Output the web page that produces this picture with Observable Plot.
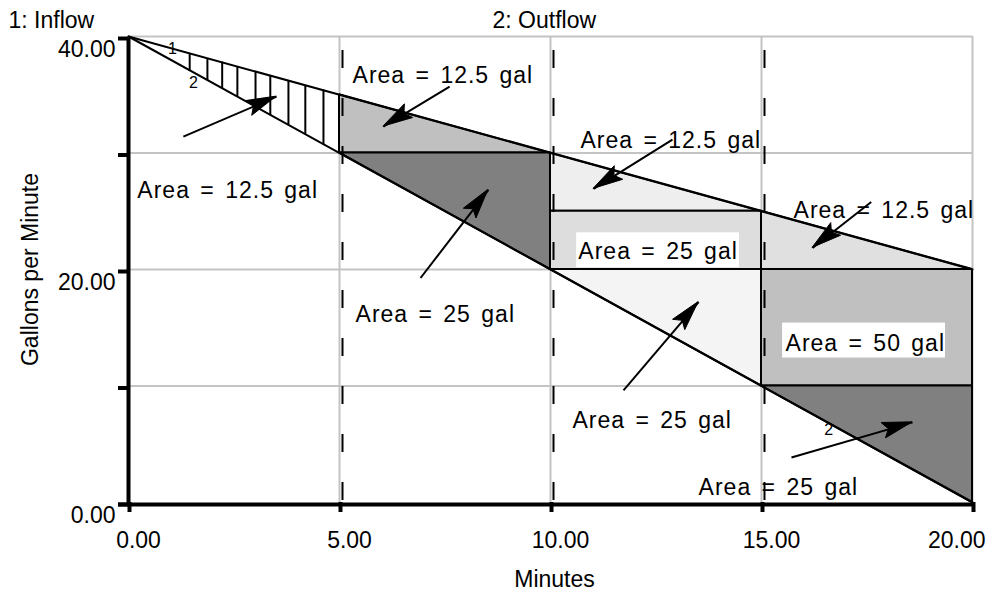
<!DOCTYPE html>
<html><head><meta charset="utf-8">
<script src="https://cdn.jsdelivr.net/npm/d3@7"></script>
<script src="https://cdn.jsdelivr.net/npm/@observablehq/plot@0.6"></script>
<style>
html,body{margin:0;padding:0;background:#fff;}
#chart svg{display:block;}
</style></head><body><div id="chart"></div>
<script>
// ---- data ----
const minutes = [0, 20];
const inflowGpm = [40, 20];
const outflowGpm = [40, 0];

const gridMinutes = [5, 10, 15, 20];
const gridGpm = [10, 20, 30, 40];
const dashedMinutes = [5, 10, 15];
const xTicks = [0, 5, 10, 15, 20];
const yTicks = [0, 10, 20, 30, 40];
const yTickLabels = [0, 20, 40];

// shaded regions: start/end minute, lower & upper bound at start and at end
const regionName = ["A", "B", "C", "D", "E", "F", "G", "H"];
const regionX0 = [5, 5, 10, 10, 10, 15, 15, 15];
const regionX1 = [10, 10, 15, 15, 15, 20, 20, 20];
const regionLo0 = [30, 30, 25, 20, 20, 20, 10, 10];
const regionHi0 = [35, 30, 30, 25, 20, 25, 20, 10];
const regionLo1 = [30, 20, 25, 20, 10, 20, 10, 0];
const regionHi1 = [30, 30, 25, 25, 20, 20, 20, 10];
const regionShade = {A: "#c0c0c0", B: "#808080", C: "#eeeeee", D: "#dddddd", E: "#f4f4f4", F: "#e0e0e0", G: "#c0c0c0", H: "#808080"};

// hatching between inflow and outflow, first 5 minutes
const hatchMinute = [1.45, 1.87, 2.22, 2.58, 3.01, 3.36, 3.79, 4.19, 4.62];
const hatchTop = [38.5, 38.1, 37.8, 37.4, 37.0, 36.6, 36.2, 35.8, 35.4];
const hatchBottom = [37.0, 36.2, 35.5, 34.8, 34.0, 33.2, 32.4, 31.6, 30.7];

// area annotations
const labelText = ["Area = 12.5 gal", "Area = 12.5 gal", "Area = 25 gal", "Area = 12.5 gal", "Area = 25 gal", "Area = 25 gal", "Area = 12.5 gal", "Area = 50 gal", "Area = 25 gal"];
const labelMinute = [0.21, 5.31, 5.38, 10.71, 10.66, 10.52, 15.76, 15.57, 13.51];
const labelGpm = [26.75, 36.65, 16.1, 31.05, 21.5, 7.05, 25.03, 13.68, 1.29];
// white boxes behind two labels
const boxMinute0 = [10.62, 15.50];
const boxMinute1 = [14.48, 19.36];
const boxGpm0 = [20.15, 12.4];
const boxGpm1 = [23.15, 15.4];

// arrows: tail -> tip
const arrowTailMinute = [1.30, 7.61, 6.92, 12.89, 11.73, 17.60, 15.71];
const arrowTailGpm = [31.4, 35.7, 19.27, 31.14, 9.63, 25.8, 3.87];
const arrowTipMinute = [3.51, 6.04, 8.53, 11.02, 13.51, 16.21, 18.58];
const arrowTipGpm = [34.84, 32.26, 26.84, 26.92, 17.2, 21.85, 6.88];

// series line labels
const lineLabel = ["1", "2", "2"];
const lineLabelMinute = [1.04, 1.54, 16.59];
const lineLabelGpm = [38.9, 36.0, 6.2];

// ---- tables ----
const inflow = minutes.map((m, i) => ({m, v: inflowGpm[i]}));
const outflow = minutes.map((m, i) => ({m, v: outflowGpm[i]}));
const regions = regionName.flatMap((r, i) => [
  {r, x: regionX0[i], lo: regionLo0[i], hi: regionHi0[i]},
  {r, x: regionX1[i], lo: regionLo1[i], hi: regionHi1[i]}
]);
const hatch = hatchMinute.map((x, i) => ({x, lo: hatchBottom[i], hi: hatchTop[i]}));
const labels = labelText.map((t, i) => ({t, x: labelMinute[i], y: labelGpm[i]}));
const boxes = boxMinute0.map((x0, i) => ({x0, x1: boxMinute1[i], y0: boxGpm0[i], y1: boxGpm1[i]}));
const arrows = arrowTailMinute.map((tx, i) => ({tx, ty: arrowTailGpm[i], hx: arrowTipMinute[i], hy: arrowTipGpm[i]}));
const lineLabels = lineLabel.map((t, i) => ({t, x: lineLabelMinute[i], y: lineLabelGpm[i]}));

function arrowHeads(index, scales) {
  const g = d3.create("svg:g").attr("aria-label", "arrow-heads");
  for (const a of arrows) {
    const x1 = scales.x(a.tx), y1 = scales.y(a.ty);
    const x2 = scales.x(a.hx), y2 = scales.y(a.hy);
    const ang = Math.atan2(y2 - y1, x2 - x1);
    const L = 30, W = 8;
    const bx = x2 - L * Math.cos(ang), by = y2 - L * Math.sin(ang);
    const px = -Math.sin(ang) * W, py = Math.cos(ang) * W;
    const nx = x2 - 0.82 * L * Math.cos(ang), ny = y2 - 0.82 * L * Math.sin(ang);
    g.append("path")
      .attr("d", `M${x2},${y2}L${bx + px},${by + py}L${nx},${ny}L${bx - px},${by - py}Z`)
      .attr("fill", "black").attr("stroke", "black").attr("stroke-width", 1);
  }
  return g.node();
}

const font = "'Liberation Sans', Arial, Helvetica, sans-serif";

const chart = Plot.plot({
  width: 990,
  height: 593,
  marginLeft: 128,
  marginRight: 18,
  marginTop: 36,
  marginBottom: 91,
  x: {domain: [0, 20], axis: null},
  y: {domain: [0, 40], axis: null},
  style: {fontFamily: font, fontSize: "23px", background: "white", color: "black"},
  marks: [
    Plot.ruleX(gridMinutes, {stroke: "#c4c4c4", strokeWidth: 2}),
    Plot.ruleY(gridGpm, {stroke: "#c4c4c4", strokeWidth: 2}),
    Plot.areaY(regions, {x: "x", y1: "lo", y2: "hi", z: "r", fill: d => regionShade[d.r], stroke: "black", strokeWidth: 2, strokeLinejoin: "miter"}),
    Plot.ruleX(hatch, {x: "x", y1: "lo", y2: "hi", stroke: "black", strokeWidth: 2}),
    Plot.line(inflow, {x: "m", y: "v", stroke: "black", strokeWidth: 2}),
    Plot.line(outflow, {x: "m", y: "v", stroke: "black", strokeWidth: 2}),
    Plot.rect(boxes, {x1: "x0", x2: "x1", y1: "y0", y2: "y1", fill: "white"}),
    Plot.text(labels, {x: "x", y: "y", text: "t", textAnchor: "start", lineAnchor: "middle", fontSize: 23, fill: "black"}),
    Plot.text(lineLabels, {x: "x", y: "y", text: "t", fontSize: 16, fill: "black"}),
    Plot.ruleX(dashedMinutes, {stroke: "black", strokeWidth: 2, strokeDasharray: "18,30", strokeDashoffset: 34, dx: 3}),
    Plot.link(arrows, {x1: "tx", y1: "ty", x2: "hx", y2: "hy", stroke: "black", strokeWidth: 2}),
    arrowHeads,
    // axes
    Plot.ruleX([0], {y1: 0, y2: 40, stroke: "black", strokeWidth: 4, insetTop: 2, insetBottom: -2}),
    Plot.ruleY([0], {x1: 0, x2: 20, stroke: "black", strokeWidth: 4, insetLeft: -10, insetRight: -2, dy: 2}),
    Plot.ruleY(yTicks, {x1: 0, x2: 0, insetLeft: -10, stroke: "black", strokeWidth: 4, dy: 2}),
    Plot.ruleX(xTicks, {y1: 0, y2: 0, insetBottom: -10, stroke: "black", strokeWidth: 4, dx: 1}),
    Plot.text(yTickLabels, {x: 0, y: d => d, text: d => d.toFixed(2), textAnchor: "end", lineAnchor: "middle", dx: -13, dy: 13, fontSize: 23, fill: "black"}),
    Plot.text(xTicks.slice(0, 4), {x: d => d, y: 0, text: d => d.toFixed(2), lineAnchor: "middle", dx: 10, dy: 38, fontSize: 23, fill: "black"}),
    Plot.text(xTicks.slice(4), {x: d => d, y: 0, text: d => d.toFixed(2), textAnchor: "end", lineAnchor: "middle", dx: 13, dy: 38, fontSize: 23, fill: "black"}),
    Plot.text(["Gallons per Minute"], {text: d => d, frameAnchor: "left", textAnchor: "middle", lineAnchor: "middle", rotate: -90, dx: -98, fontSize: 23, fill: "black"}),
    Plot.text(["Minutes"], {text: d => d, frameAnchor: "bottom", textAnchor: "middle", lineAnchor: "middle", dx: 4, dy: 77, fontSize: 23, fill: "black"}),
    Plot.text(["1: Inflow"], {text: d => d, frameAnchor: "top-left", textAnchor: "start", lineAnchor: "middle", dx: -120, dy: -16, fontSize: 23, fill: "black"}),
    Plot.text(["2: Outflow"], {text: d => d, frameAnchor: "top-left", textAnchor: "start", lineAnchor: "middle", dx: 364, dy: -16, fontSize: 23, fill: "black"})
  ]
});
// slightly wider letter spacing for the area annotations
for (const t of chart.querySelectorAll("text")) {
  if (t.textContent.startsWith("Area")) {
    t.style.letterSpacing = "1px";
    t.style.wordSpacing = "3px";
  }
}
document.getElementById("chart").append(chart);
</script></body></html>
